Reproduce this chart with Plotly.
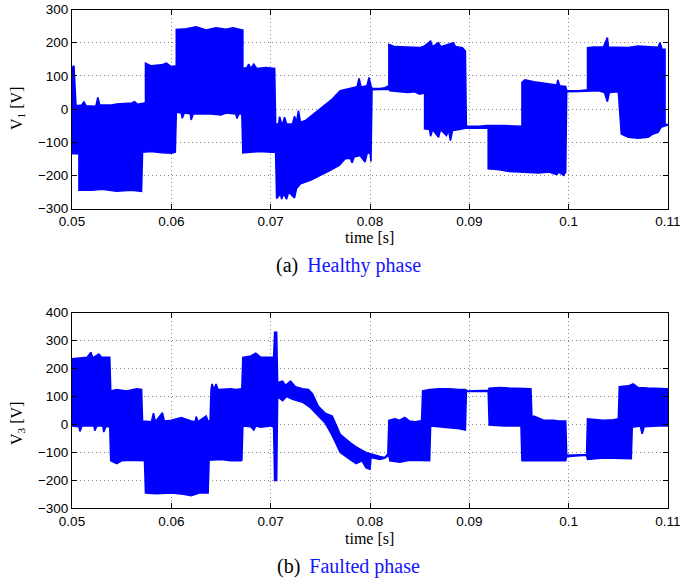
import plotly.graph_objects as go

# ---------------- data ----------------
# Healthy phase V1 : upper and lower envelope of the switching waveform
v1_t_up = [0.0500, 0.0502, 0.0504, 0.0510, 0.0512, 0.0514, 0.0524, 0.0526, 0.0528, 0.0540, 0.0545, 0.0560, 0.0563, 0.0566, 0.0573,
           0.0574, 0.0574, 0.0580, 0.0590, 0.0595, 0.0600, 0.0604,
           0.0605, 0.0605, 0.0615, 0.0625, 0.0635, 0.0645, 0.0655, 0.0662, 0.0670, 0.0672,
           0.0672, 0.0676, 0.0678, 0.0680, 0.0683, 0.0686, 0.0695, 0.0704,
           0.0705, 0.0708, 0.0709, 0.0711, 0.0712, 0.0714, 0.0716, 0.0722, 0.0724, 0.0726, 0.0728, 0.0730,
           0.0735, 0.0750, 0.0762, 0.0770, 0.0780, 0.0787, 0.0789, 0.0791, 0.0797, 0.0799, 0.0801,
           0.0802, 0.0810, 0.0815, 0.0819,
           0.0819, 0.0825, 0.0835, 0.0845, 0.0850, 0.0855, 0.0861, 0.0863, 0.0869, 0.0871, 0.0884, 0.0886, 0.0893, 0.0896,
           0.0897, 0.0910, 0.0918, 0.0935, 0.0950, 0.0953,
           0.0953, 0.0956, 0.0965, 0.0980, 0.0988, 0.0989, 0.0991, 0.0997,
           0.0998, 0.1010, 0.1019,
           0.1019, 0.1025, 0.1035, 0.1039, 0.1040, 0.1050, 0.1060, 0.1070, 0.1080, 0.1090, 0.1092, 0.1094, 0.1097,
           0.1097, 0.1100]
v1_v_up = [125, 130, 10, 12, 22, 10, 8, 35, 12, 12, 15, 18, 22, 14, 18,
           20, 138, 130, 133, 138, 128, 130,
           130, 240, 242, 248, 238, 245, 240, 245, 240, 238,
           122, 125, 135, 122, 135, 122, 125, 122,
           -45, -45, -23, -45, -45, -25, -45, -45, -22, -40, -5, -40,
           -35, 0, 30, 55, 63, 67, 92, 66, 70, 95, 70,
           62, 62, 64, 70,
           195, 188, 186, 184, 185, 190, 205, 188, 200, 188, 200, 188, 185, 175,
           -52, -52, -50, -50, -52, -52,
           80, 88, 82, 75, 72, 88, 70, 68,
           55, 55, 58,
           185, 187, 187, 215, 187, 185, 185, 190, 188, 186, 200, 180, 180,
           -45, -48]

v1_t_lo = [0.0500, 0.0507,
           0.0507, 0.0520, 0.0530, 0.0545, 0.0560, 0.0570,
           0.0571, 0.0580, 0.0590, 0.0600, 0.0604,
           0.0605, 0.0610, 0.0611, 0.0613, 0.0619, 0.0620, 0.0622, 0.0640, 0.0650, 0.0655, 0.0665, 0.0666, 0.0668, 0.0671,
           0.0672, 0.0690, 0.0700, 0.0705,
           0.0706, 0.0710, 0.0711, 0.0713, 0.0716, 0.0718, 0.0724, 0.0726, 0.0730, 0.0740, 0.0750, 0.0760, 0.0769,
           0.0775, 0.0780, 0.0782, 0.0784, 0.0790, 0.0795, 0.0797, 0.0800, 0.0801,
           0.0802, 0.0810, 0.0819,
           0.0820, 0.0830, 0.0838, 0.0845, 0.0850, 0.0855,
           0.0855, 0.0860, 0.0861, 0.0863, 0.0869, 0.0871, 0.0877, 0.0879, 0.0881, 0.0883, 0.0890, 0.0896,
           0.0897, 0.0910, 0.0919,
           0.0919, 0.0930, 0.0940, 0.0950, 0.0960, 0.0970, 0.0980, 0.0988, 0.0990, 0.0995, 0.0997,
           0.0998, 0.1010, 0.1019, 0.1030, 0.1036, 0.1039, 0.1041, 0.1050,
           0.1053, 0.1060, 0.1070, 0.1080, 0.1085, 0.1090, 0.1093, 0.1097, 0.1100]
v1_v_lo = [-135, -135,
           -245, -245, -242, -248, -245, -248,
           -130, -128, -132, -133, -130,
           -10, -12, -28, -12, -14, -33, -14, -15, -18, -12, -15, -28, -15, -15,
           -132, -128, -130, -130,
           -270, -255, -272, -255, -272, -250, -268, -240, -225, -215, -200, -185, -170,
           -150, -148, -162, -145, -140, -160, -135, -130, -158,
           58, 58, 60,
           55, 52, 50, 52, 45, 48,
           -60, -62, -82, -62, -85, -62, -80, -62, -95, -65, -62, -58,
           -58, -57, -57,
           -180, -183, -188, -190, -192, -193, -190, -198, -190, -200, -190,
           52, 53, 55, 55, 50, 22, 50, 52,
           -75, -85, -88, -85, -75, -70, -55, -52, -48]

# Faulted phase V3 : upper and lower envelope
v3_t_up = [0.0500, 0.0510, 0.0515, 0.0519, 0.0521, 0.0527, 0.0530, 0.0538,
           0.0539, 0.0545, 0.0555, 0.0565, 0.0570,
           0.0571, 0.0580, 0.0582, 0.0584, 0.0591, 0.0593, 0.0600, 0.0610, 0.0620, 0.0624, 0.0625, 0.0627, 0.0635, 0.0637, 0.0639,
           0.0640, 0.0641, 0.0643, 0.0645, 0.0647, 0.0660, 0.0665, 0.0671,
           0.0672, 0.0680, 0.0685, 0.0690, 0.0700, 0.0703,
           0.0704, 0.0706,
           0.0707, 0.0712, 0.0715, 0.0720, 0.0725, 0.0732, 0.0738, 0.0742, 0.0748, 0.0755, 0.0762, 0.0766, 0.0770,
           0.0780, 0.0786, 0.0796, 0.0800,
           0.0801, 0.0810, 0.0815, 0.0818,
           0.0819, 0.0825, 0.0830, 0.0835, 0.0840, 0.0845, 0.0850, 0.0852,
           0.0853, 0.0860, 0.0870, 0.0880, 0.0890, 0.0896,
           0.0898, 0.0919,
           0.0920, 0.0930, 0.0940, 0.0950, 0.0962,
           0.0963, 0.0965, 0.0975, 0.0985, 0.0990, 0.0997,
           0.0998, 0.1010, 0.1018,
           0.1019, 0.1025, 0.1035, 0.1045, 0.1050,
           0.1051, 0.1060, 0.1065, 0.1070, 0.1080, 0.1090, 0.1100]
v3_v_up = [235, 238, 240, 258, 238, 252, 240, 240,
           120, 125, 120, 128, 125,
           12, 10, 40, 10, 42, 12, 15, 25, 12, 10, 28, 10, 30, 12, 12,
           125, 145, 125, 145, 125, 128, 125, 128,
           240, 245, 255, 240, 242, 240,
           330, 330,
           150, 155, 140, 155, 135, 128, 125, 110, 65, 40, 30, -5, -35,
           -65, -80, -100, -105,
           -105, -115, -118, -105,
           15, 20, 15, 25, 12, 10, 12, 15,
           120, 125, 128, 128, 125, 125,
           120, 122,
           130, 132, 130, 130, 128,
           25, 30, 15, 15, 12, 12,
           -110, -110, -108,
           20, 18, 15, 17, 20,
           135, 138, 145, 132, 130, 128, 128]

v3_t_lo = [0.0500, 0.0507, 0.0508, 0.0510, 0.0522, 0.0523, 0.0525, 0.0531, 0.0532, 0.0534, 0.0538,
           0.0539, 0.0545, 0.0550, 0.0560, 0.0573,
           0.0574, 0.0585, 0.0600, 0.0612, 0.0620, 0.0628, 0.0637,
           0.0638, 0.0650, 0.0660, 0.0670, 0.0671,
           0.0672, 0.0680, 0.0683, 0.0685, 0.0690, 0.0700, 0.0703,
           0.0704, 0.0706,
           0.0707, 0.0712, 0.0716, 0.0722, 0.0732, 0.0740, 0.0748, 0.0755, 0.0762, 0.0766, 0.0770,
           0.0778, 0.0786, 0.0792, 0.0796, 0.0800,
           0.0801, 0.0810, 0.0815, 0.0819,
           0.0820, 0.0830, 0.0840, 0.0850, 0.0860,
           0.0861, 0.0870, 0.0880, 0.0890, 0.0896,
           0.0897, 0.0919,
           0.0920, 0.0935, 0.0952,
           0.0953, 0.0965, 0.0980, 0.0997,
           0.0998, 0.1010, 0.1018,
           0.1019, 0.1035, 0.1050, 0.1063,
           0.1064, 0.1072, 0.1074, 0.1076, 0.1090, 0.1100]
v3_v_lo = [-5, -8, -25, -5, -5, -22, -5, -5, -27, -8, -8,
           -130, -140, -130, -128, -130,
           -245, -248, -245, -250, -255, -245, -245,
           -128, -125, -130, -130, -128,
           -5, -8, -20, -5, -10, -5, -10,
           -200, -200,
           100, 85, 100, 90, 80, 60, 30, 5, -40, -70, -100,
           -120, -140, -130, -155, -160,
           -118, -125, -120, -110,
           -130, -135, -128, -130, -130,
           -5, -10, -12, -15, -20,
           118, 118,
           -2, -5, -5,
           -130, -128, -130, -130,
           -115, -112, -110,
           -125, -120, -122, -122,
           -10, -5, -33, -8, -5, -5]

x_ticks = [0.05, 0.06, 0.07, 0.08, 0.09, 0.1, 0.11]
x_tick_labels = ["0.05", "0.06", "0.07", "0.08", "0.09", "0.1", "0.11"]
v1_ticks = [-300, -200, -100, 0, 100, 200, 300]
v3_ticks = [-300, -200, -100, 0, 100, 200, 300, 400]

BLUE = "#0000ff"

fig = go.Figure()


def band(t_up, v_up, t_lo, v_lo, xa, ya):
    xs = list(t_up) + list(reversed(t_lo))
    ys = list(v_up) + list(reversed(v_lo))
    fig.add_trace(go.Scatter(x=xs, y=ys, mode="lines", fill="toself",
                             fillcolor=BLUE, line=dict(color=BLUE, width=1.6),
                             xaxis=xa, yaxis=ya, showlegend=False, hoverinfo="skip"))


band(v1_t_up, v1_v_up, v1_t_lo, v1_v_lo, "x", "y")
band(v3_t_up, v3_v_up, v3_t_lo, v3_v_lo, "x2", "y2")

W, H = 680, 583


def xp(px):
    return px / W


def yp(py):
    return 1 - py / H


x_dom = [xp(72), xp(668)]
top_dom = [yp(208.5), yp(9.5)]
bot_dom = [yp(508.3), yp(312.7)]

tickfont = dict(family="Liberation Sans, Arial, sans-serif", size=13.5, color="black")
axis_common = dict(showline=True, linecolor="black", linewidth=1, mirror="ticks",
                   ticks="inside", ticklen=5, tickcolor="black", tickwidth=1,
                   showgrid=True, gridcolor="#8a8a8a", gridwidth=1, griddash="1px,3px",
                   zeroline=False, tickfont=tickfont, automargin=False,
                   ticklabeloverflow="allow")

fig.update_layout(
    width=W, height=H,
    margin=dict(l=0, r=0, t=0, b=0, autoexpand=False),
    paper_bgcolor="white", plot_bgcolor="white",
    xaxis=dict(domain=x_dom, range=[0.05, 0.11], tickvals=x_ticks, ticktext=x_tick_labels,
               anchor="y", **axis_common),
    yaxis=dict(domain=top_dom, range=[-300, 300], tickvals=v1_ticks, anchor="x", **axis_common),
    xaxis2=dict(domain=x_dom, range=[0.05, 0.11], tickvals=x_ticks, ticktext=x_tick_labels,
                anchor="y2", **axis_common),
    yaxis2=dict(domain=bot_dom, range=[-300, 400], tickvals=v3_ticks, anchor="x2", **axis_common),
)

serif = "Liberation Serif, Times New Roman, serif"
ann = [
    dict(text="time [s]", x=xp(370), y=yp(237.5), size=16),
    dict(text="(a) &#8201;<span style='color:#1414ff'>Healthy phase</span>", x=xp(348), y=yp(265), size=20),
    dict(text="time [s]", x=xp(370), y=yp(538), size=16),
    dict(text="(b) &#8201;<span style='color:#1414ff'>Faulted phase</span>", x=xp(348), y=yp(566.5), size=20),
]
for a in ann:
    fig.add_annotation(text=a["text"], x=a["x"], y=a["y"], xref="paper", yref="paper",
                       xanchor="center", yanchor="middle", showarrow=False,
                       font=dict(family=serif, size=a["size"], color="black"))

for txt, yc in [("V<sub>1</sub> [V]", 109), ("V<sub>3</sub> [V]", 424)]:
    fig.add_annotation(text=txt, x=xp(17), y=yp(yc), xref="paper", yref="paper",
                       xanchor="center", yanchor="middle", showarrow=False, textangle=-90,
                       font=dict(family=serif, size=16, color="black"))

# remove the browser's default 8 px body margin so the figure fills the window exactly
fig.write_html("out.html", config={"displayModeBar": False, "staticPlot": True},
               post_script="document.body.style.margin='0';document.body.style.overflow='hidden';")
